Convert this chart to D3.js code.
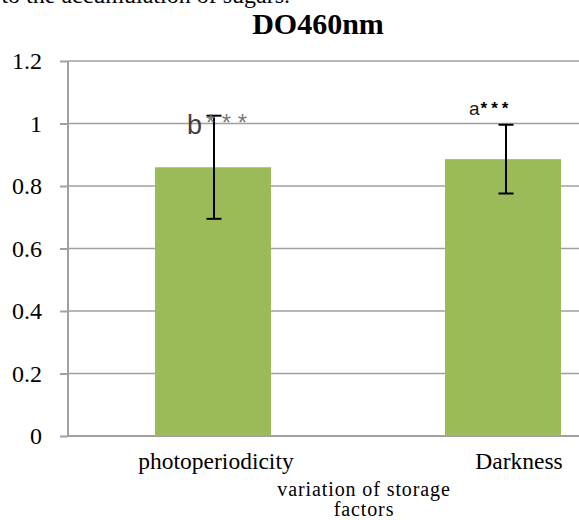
<!DOCTYPE html>
<html>
<head>
<meta charset="utf-8">
<script src="https://cdn.jsdelivr.net/npm/d3@7/dist/d3.min.js"></script>
<style>
  html, body { margin: 0; padding: 0; background: #fff; }
  svg { display: block; }
  .serif { font-family: "Liberation Serif", "Times New Roman", serif; }
  .sans { font-family: "Liberation Sans", Arial, sans-serif; }
</style>
</head>
<body>
<script>
// DO460nm by storage condition, with error bars and significance letters
const categories = ["photoperiodicity", "Darkness"];
const means = [0.86, 0.886];
const errors = [0.165, 0.11];
const letters = ["b", "a"];
const stars = ["***", "***"];
const yTicks = [0, 0.2, 0.4, 0.6, 0.8, 1, 1.2];
const title = "DO460nm";
const xTitle = ["variation of storage", "factors"];
const caption = "to the accumulation of sugars.";

const W = 579, H = 520;
const svg = d3.select("body").append("svg").attr("width", W).attr("height", H);

const plotLeft = 68, plotRight = 648, plotTop = 61, plotBottom = 436;

const x = d3.scaleBand().domain(categories).range([plotLeft, plotRight])
  .paddingInner(0.6).paddingOuter(0.3);
const y = d3.scaleLinear().domain([0, 1.2]).range([plotBottom, plotTop]);

// running text above the figure (only its lower edge shows)
svg.append("text").attr("class", "serif").attr("x", 290).attr("y", 3)
  .attr("text-anchor", "end").style("font-size", "24px").attr("fill", "#000")
  .text(caption);

// title
svg.append("text").attr("class", "serif").attr("x", 318).attr("y", 34)
  .attr("text-anchor", "middle").style("font-weight", "bold").style("font-size", "30px")
  .attr("fill", "#000").text(title);

// y axis with gridlines
const yAxis = d3.axisLeft(y).tickValues(yTicks).tickSize(8).tickPadding(18)
  .tickFormat(d3.format("~g"));
const gy = svg.append("g").attr("transform", `translate(${plotLeft},0)`).call(yAxis);
gy.attr("font-family", null).attr("font-size", null);
gy.select(".domain").attr("stroke", "#a0a0a0").attr("stroke-width", 2)
  .attr("d", `M0,${plotTop}V${plotBottom}`);
gy.selectAll(".tick line").attr("stroke", "#a0a0a0").attr("stroke-width", 2);
gy.selectAll(".tick text").attr("class", "serif").style("font-size", "24px").attr("fill", "#000");

svg.append("g").selectAll("line").data(yTicks).join("line")
  .attr("x1", plotLeft).attr("x2", W)
  .attr("y1", d => y(d)).attr("y2", d => y(d))
  .attr("stroke", "#a0a0a0").attr("stroke-width", d => d === 0 ? 2 : 1.5);

// bars
svg.append("g").selectAll("rect").data(categories).join("rect")
  .attr("x", d => x(d)).attr("width", x.bandwidth())
  .attr("y", (d, i) => y(means[i])).attr("height", (d, i) => y(0) - y(means[i]))
  .attr("fill", "#9bbb59");

// error bars
const eb = svg.append("g").attr("stroke", "#000").attr("stroke-width", 2);
categories.forEach((c, i) => {
  const cx = x(c) + x.bandwidth() / 2 + (i === 1 ? 3 : 1);
  const hi = y(means[i] + errors[i]), lo = y(means[i] - errors[i]);
  eb.append("line").attr("x1", cx).attr("x2", cx).attr("y1", hi).attr("y2", lo);
  eb.append("line").attr("x1", cx - 7.5).attr("x2", cx + 7.5).attr("y1", hi).attr("y2", hi);
  eb.append("line").attr("x1", cx - 7.5).attr("x2", cx + 7.5).attr("y1", lo).attr("y2", lo);
});

// significance labels
const lb1 = svg.append("text").attr("class", "sans").attr("x", x(categories[0]) + 32)
  .attr("y", y(1.0) + 10).attr("fill", "#404040");
lb1.append("tspan").style("font-size", "27px").text(letters[0]);
lb1.append("tspan").style("font-size", "24px").attr("fill", "#7a7a7a").attr("dy", -3).attr("dx", 4)
  .style("letter-spacing", "6.5px").text(stars[0]);

const lb2 = svg.append("text").attr("class", "sans").attr("x", x(categories[1]) + 24)
  .attr("y", 115).attr("fill", "#1a1a1a");
lb2.append("tspan").style("font-size", "19px").text(letters[1]);
lb2.append("tspan").style("font-size", "17px").style("font-weight", "bold").attr("fill", "#000")
  .attr("dy", -1).attr("dx", 1).style("letter-spacing", "4px").text(stars[1]);

// category labels
const labelShift = [3, 16];
svg.append("g").selectAll("text").data(categories).join("text")
  .attr("class", "serif")
  .attr("x", (d, i) => x(d) + x.bandwidth() / 2 + labelShift[i])
  .attr("y", 469).attr("text-anchor", "middle")
  .style("font-size", "23.5px").attr("fill", "#000")
  .text(d => d);

// x axis title
svg.append("g").selectAll("text").data(xTitle).join("text")
  .attr("class", "serif")
  .attr("x", 364).attr("y", (d, i) => 496 + i * 20).attr("text-anchor", "middle")
  .style("font-size", "20px").style("letter-spacing", "0.9px").attr("fill", "#000")
  .text(d => d);
</script>
</body>
</html>
